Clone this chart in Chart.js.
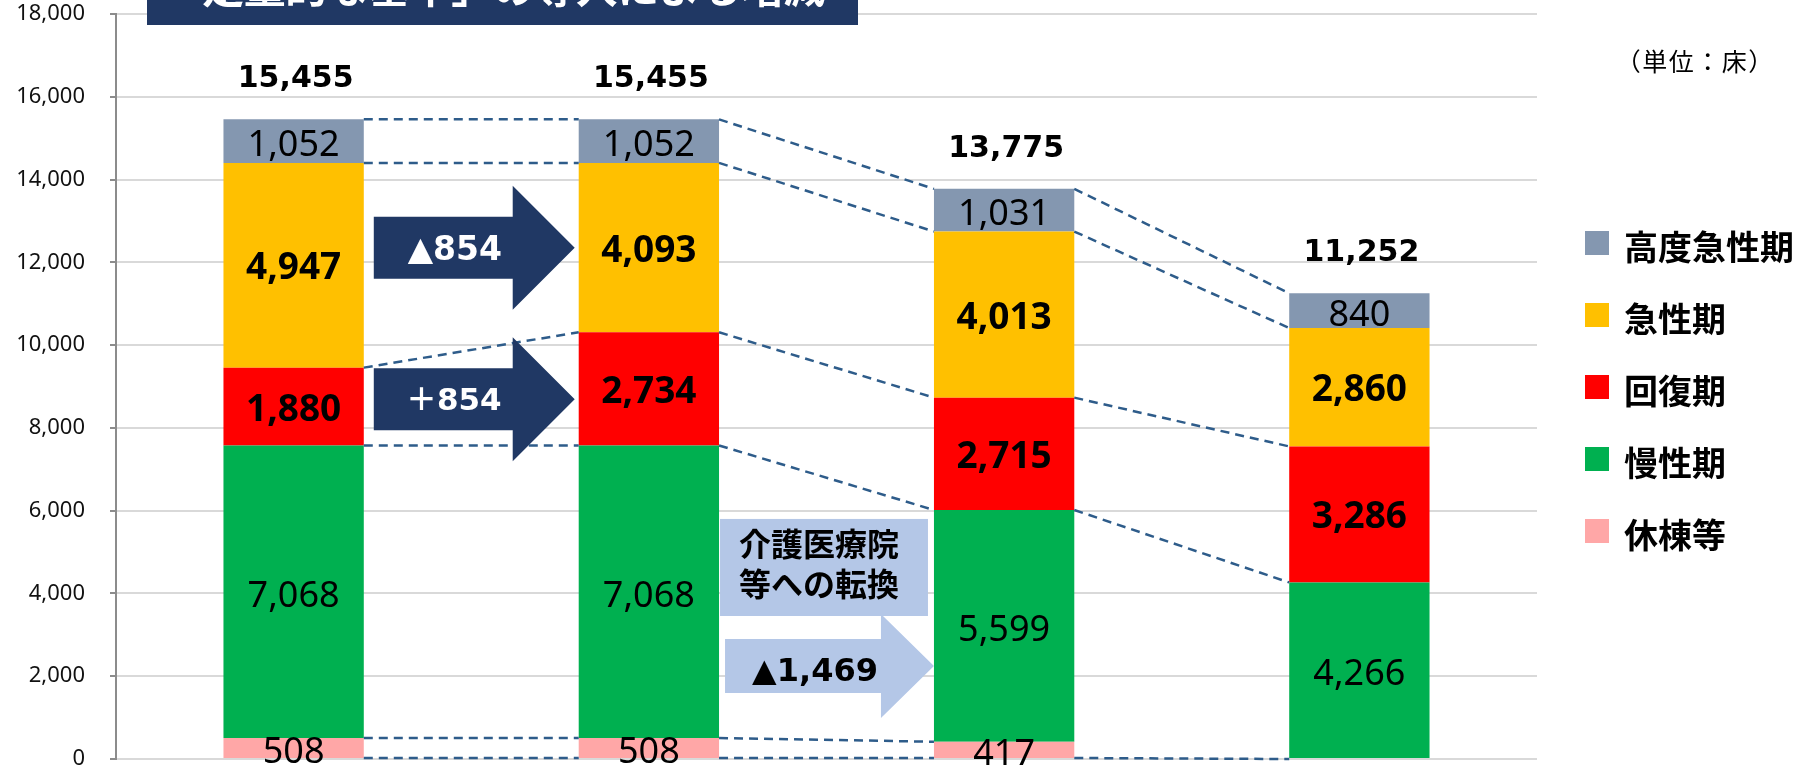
<!DOCTYPE html>
<html>
<head>
<meta charset="utf-8">
<script src="https://cdn.jsdelivr.net/npm/chart.js@4.4.1/dist/chart.umd.min.js"></script>
<style>
  html, body { margin: 0; padding: 0; background: #fff; overflow: hidden; }
</style>
</head>
<body>
<canvas id="beds" width="1795" height="769"></canvas>
<script>
// data (unit: beds)
const categories = ["1", "2", "3", "4"];
const seriesNames = ["休棟等", "慢性期", "回復期", "急性期", "高度急性期"];
const kyutou = [508, 508, 417, 0];
const mansei = [7068, 7068, 5599, 4266];
const kaifuku = [1880, 2734, 2715, 3286];
const kyusei = [4947, 4093, 4013, 2860];
const koudo = [1052, 1052, 1031, 840];
const totals = [15455, 15455, 13775, 11252];
const yMax = 18000;
const yStep = 2000;

const seriesColors = ["#FFA7A7", "#00B050", "#FF0000", "#FFC000", "#8497B0"];
const boldLabels = [false, false, true, true, false];
const NAVY = "#203864";
const LIGHTBLUE = "#B4C7E7";

const fmt = (v) => v.toLocaleString("en-US");

const seriesData = [kyutou, mansei, kaifuku, kyusei, koudo];
const datasets = seriesData.map((d, k) => ({
  label: seriesNames[k],
  data: d,
  backgroundColor: seriesColors[k],
  stack: "beds",
  barPercentage: 0.395,
  categoryPercentage: 1.0,
}));

function arrow(ctx, xl, headX, xr, yc, bh, hh, color) {
  ctx.beginPath();
  ctx.moveTo(xl, yc - bh);
  ctx.lineTo(headX, yc - bh);
  ctx.lineTo(headX, yc - hh);
  ctx.lineTo(xr, yc);
  ctx.lineTo(headX, yc + hh);
  ctx.lineTo(headX, yc + bh);
  ctx.lineTo(xl, yc + bh);
  ctx.closePath();
  ctx.fillStyle = color;
  ctx.fill();
}

// draws a string one glyph per fixed-width cell (keeps full-width punctuation wide)
function cells(ctx, text, x0, y, w) {
  [...text].forEach((ch, j) => ctx.fillText(ch, x0 + (j + 0.5) * w, y));
}

const extras = {
  id: "extras",
  afterDatasetsDraw(chart) {
    const ctx = chart.ctx;
    const ys = chart.scales.y;
    const area = chart.chartArea;
    const metas = datasets.map((_, k) => chart.getDatasetMeta(k));
    const bar = (k, i) => metas[k].data[i];
    const left = (i) => bar(0, i).x - bar(0, i).width / 2;
    const right = (i) => bar(0, i).x + bar(0, i).width / 2;

    ctx.save();

    // dashed connectors between neighbouring bars
    ctx.strokeStyle = "#2E5C8A";
    ctx.lineWidth = 2.5;
    ctx.setLineDash([9, 6]);
    for (let i = 0; i < categories.length - 1; i++) {
      for (let lv = 0; lv <= seriesData.length; lv++) {
        if (lv === 1 && seriesData[0][i + 1] === 0) continue;
        const y1 = lv === 0 ? bar(0, i).base : bar(lv - 1, i).y;
        const y2 = lv === 0 ? bar(0, i + 1).base : bar(lv - 1, i + 1).y;
        ctx.beginPath();
        ctx.moveTo(right(i), y1);
        ctx.lineTo(left(i + 1), y2);
        ctx.stroke();
      }
    }
    ctx.setLineDash([]);

    // shift arrows between bar 1 and bar 2
    const a1l = right(0) + 10, a1r = left(1) - 4;
    arrow(ctx, a1l, a1r - 62, a1r, ys.getPixelForValue(12350), 31, 62, NAVY);
    arrow(ctx, a1l, a1r - 62, a1r, ys.getPixelForValue(8690), 31, 62, NAVY);
    ctx.fillStyle = "#fff";
    ctx.textAlign = "center";
    ctx.textBaseline = "alphabetic";
    ctx.font = "bold 33px 'DejaVu Sans', 'Noto Sans CJK JP'";
    ctx.fillText("▲854", a1l + 81, ys.getPixelForValue(12350) + 12);
    ctx.font = "bold 31px 'DejaVu Sans', 'Noto Sans CJK JP'";
    ctx.fillText("＋854", a1l + 80, ys.getPixelForValue(8690) + 11);

    // conversion arrow + callout between bar 2 and bar 3
    const a3l = right(1) + 6, a3r = left(2);
    arrow(ctx, a3l, a3r - 53, a3r, ys.getPixelForValue(2245), 27, 52, LIGHTBLUE);
    ctx.fillStyle = "#000";
    ctx.font = "bold 32px 'DejaVu Sans', 'Noto Sans CJK JP'";
    ctx.fillText("▲1,469", a3l + 90, ys.getPixelForValue(2245) + 15);

    const bx1 = right(1) + 1, bx2 = left(2) - 6;
    const by1 = ys.getPixelForValue(5800), by2 = ys.getPixelForValue(3455);
    ctx.fillStyle = LIGHTBLUE;
    ctx.fillRect(bx1, by1, bx2 - bx1, by2 - by1);
    ctx.fillStyle = "#000";
    ctx.font = "bold 32px 'Noto Sans CJK JP'";
    ctx.textBaseline = "middle";
    ctx.fillText("介護医療院", (bx1 + bx2) / 2 - 5, by1 + 25);
    ctx.fillText("等への転換", (bx1 + bx2) / 2 - 5, by1 + 65);

    // value labels inside segments
    metas.forEach((meta, k) => {
      meta.data.forEach((el, i) => {
        const v = seriesData[k][i];
        if (!v) return;
        const cy = (el.y + el.base) / 2;
        ctx.fillStyle = "#000";
        ctx.textBaseline = "alphabetic";
        if (boldLabels[k]) {
          ctx.font = "bold 37px 'Noto Sans'";
          ctx.fillText(fmt(v), el.x, cy + 14);
        } else {
          ctx.font = "36px 'Noto Sans'";
          ctx.fillText(fmt(v), el.x, cy + 15);
        }
      });
    });

    // totals above bars
    ctx.font = "bold 30px 'DejaVu Sans'";
    totals.forEach((t, i) => {
      const top = bar(seriesData.length - 1, i).y;
      ctx.fillText(fmt(t), bar(0, i).x + 2, top - 32);
    });

    // legend (top series first)
    const lx = area.right + 48;
    ctx.font = "bold 34px 'Noto Sans CJK JP'";
    ctx.textAlign = "left";
    ctx.textBaseline = "middle";
    for (let j = 0; j < seriesNames.length; j++) {
      const k = seriesNames.length - 1 - j;
      const cy = 243 + j * 72;
      ctx.fillStyle = seriesColors[k];
      ctx.fillRect(lx, cy - 12, 24, 24);
      ctx.fillStyle = "#000";
      ctx.fillText(seriesNames[k], lx + 39, cy + 4);
    }

    // unit note
    ctx.font = "25px 'Noto Sans CJK JP'";
    ctx.textAlign = "center";
    cells(ctx, "（単位：床）", lx + 30, 61, 26.5);

    // heading banner, cut by the top edge
    ctx.fillStyle = NAVY;
    ctx.fillRect(area.left + 31, 0, 711, 25);
    ctx.fillStyle = "#fff";
    ctx.font = "bold 42px 'Noto Sans CJK JP'";
    ctx.textBaseline = "alphabetic";
    cells(ctx, "「定量的な基準」の導入による増減", area.left + 45, 3, 41.5);

    ctx.restore();
  },
};

new Chart(document.getElementById("beds"), {
  type: "bar",
  data: { labels: categories, datasets: datasets },
  options: {
    responsive: false,
    animation: false,
    devicePixelRatio: 1,
    layout: { padding: { left: 0, right: 258, top: 14, bottom: 10 } },
    plugins: {
      legend: { display: false },
      title: { display: false },
      tooltip: { enabled: false },
    },
    scales: {
      x: { display: false, stacked: true },
      y: {
        stacked: true,
        min: 0,
        max: yMax,
        ticks: {
          stepSize: yStep,
          padding: 25,
          color: "#111",
          font: { family: "'Noto Sans'", size: 22 },
          callback: (v) => fmt(v),
        },
        grid: {
          color: "#d9d9d9",
          lineWidth: 2,
          drawTicks: true,
          tickLength: 6,
          tickColor: "#8c8c8c",
          tickWidth: 2,
        },
        border: { color: "#8c8c8c", width: 2 },
        afterFit: (s) => {
          s.width = 116;
          s.paddingTop = 0;
          s.paddingBottom = 0;
        },
      },
    },
  },
  plugins: [extras],
});
</script>
</body>
</html>
